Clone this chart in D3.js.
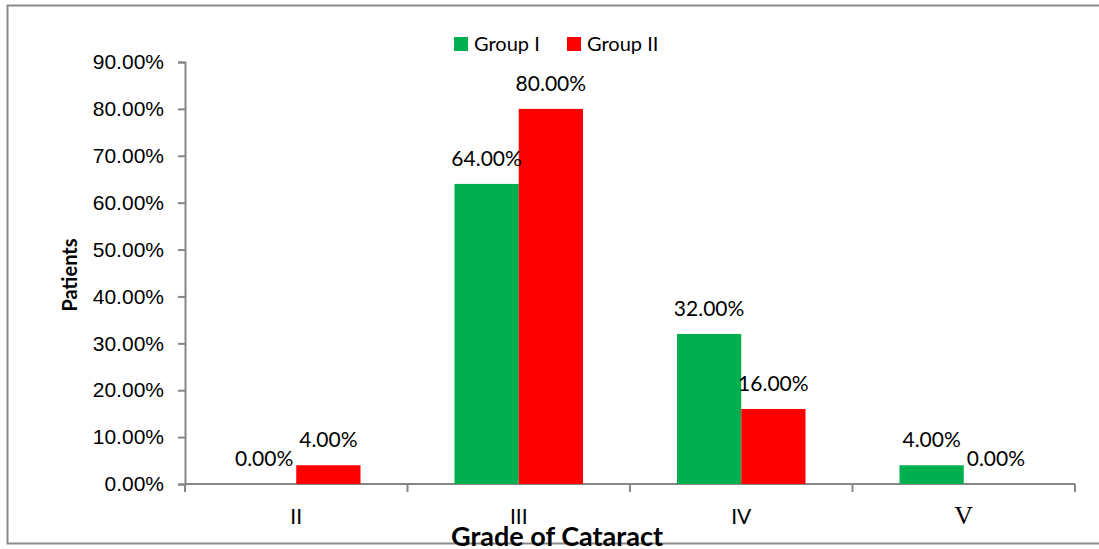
<!DOCTYPE html>
<html>
<head>
<meta charset="utf-8">
<script src="https://cdn.jsdelivr.net/npm/d3@7"></script>
<style>
  body { margin: 0; background: #fff; }
  svg { display: block; font-family: Lato, "Open Sans", sans-serif; }
</style>
</head>
<body>
<div id="chart"></div>
<script>
// data
const grades = ["II", "III", "IV", "V"];
const seriesNames = ["Group I", "Group II"];
const groupI = [0, 64, 32, 4];
const groupII = [4, 80, 16, 0];
const yTicks = [0, 10, 20, 30, 40, 50, 60, 70, 80, 90];
const colors = ["#00b050", "#ff0000"];

const W = 1099, H = 549;
const margin = { top: 62, right: 24, bottom: 65, left: 185 };
const width = W - margin.left - margin.right,
  height = H - margin.top - margin.bottom;

const svg = d3.select("#chart").append("svg")
  .attr("width", W)
  .attr("height", H);

// chart border
svg.append("rect")
  .attr("x", 7.5).attr("y", 5.5)
  .attr("width", W + 10).attr("height", 538)
  .attr("fill", "none")
  .attr("stroke", "#898989")
  .attr("stroke-width", 2);

const g = svg.append("g")
  .attr("transform", "translate(" + margin.left + "," + margin.top + ")");

const x0 = d3.scaleBand().domain(grades).range([0, width]).paddingInner(0).paddingOuter(0);
const x1 = d3.scaleBand().domain(seriesNames).range([47, x0.bandwidth() - 47]);
const y = d3.scaleLinear().domain([0, 90]).range([height, 0]);

// y axis
const yAxis = g.append("g")
  .call(d3.axisLeft(y).tickValues(yTicks).tickSize(7).tickPadding(14)
    .tickFormat(d => d.toFixed(2) + "%"));
yAxis.selectAll("text").style("font-size", "21px").attr("fill", "#000");
yAxis.select(".domain").attr("stroke", "#868686").attr("stroke-width", 2);
yAxis.selectAll(".tick line").attr("stroke", "#868686").attr("stroke-width", 2);

// x axis with ticks at band edges
const xAxis = g.append("g").attr("transform", "translate(0," + height + ")");
xAxis.append("line").attr("x1", 0).attr("x2", width).attr("stroke", "#868686").attr("stroke-width", 2);
xAxis.selectAll("line.tk")
  .data(grades.concat(["end"]))
  .enter().append("line")
  .attr("class", "tk")
  .attr("x1", (d, i) => i * x0.bandwidth())
  .attr("x2", (d, i) => i * x0.bandwidth())
  .attr("y1", 0).attr("y2", 8)
  .attr("stroke", "#868686").attr("stroke-width", 2);
xAxis.selectAll("text")
  .data(grades)
  .enter().append("text")
  .attr("x", d => x0(d) + x0.bandwidth() / 2)
  .attr("y", 40)
  .attr("text-anchor", "middle")
  .style("font-size", d => d === "V" ? "26px" : "21px")
  .style("font-family", d => d === "V" ? "'Liberation Serif', serif" : null)
  .text(d => d);

// bars
const rows = grades.map((k, i) => ({ grade: k, vals: [groupI[i], groupII[i]] }));
const grp = g.selectAll("g.grade")
  .data(rows)
  .enter().append("g")
  .attr("class", "grade")
  .attr("transform", d => "translate(" + x0(d.grade) + ",0)");

grp.selectAll("rect")
  .data(d => d.vals.map((v, j) => ({ key: seriesNames[j], v: v, j: j })))
  .enter().append("rect")
  .attr("x", d => x1(d.key))
  .attr("y", d => y(d.v))
  .attr("width", x1.bandwidth())
  .attr("height", d => height - y(d.v))
  .attr("fill", d => colors[d.j]);

grp.selectAll("text")
  .data(d => d.vals.map((v, j) => ({ key: seriesNames[j], v: v, j: j })))
  .enter().append("text")
  .attr("x", d => x1(d.key) + x1.bandwidth() / 2)
  .attr("y", d => y(d.v) - 18)
  .attr("text-anchor", "middle")
  .style("font-size", "21px")
  .text(d => d.v.toFixed(2) + "%");

// axis titles
svg.append("text")
  .attr("transform", "translate(77,275) rotate(-90)")
  .attr("text-anchor", "middle")
  .style("font-size", "20px")
  .style("font-weight", "bold")
  .text("Patients");

svg.append("text")
  .attr("x", 557).attr("y", 546)
  .attr("text-anchor", "middle")
  .style("font-size", "27px")
  .style("font-weight", "bold")
  .text("Grade of Cataract");

// legend
const legend = svg.append("g").attr("transform", "translate(454,37)");
const lx = [0, 113];
seriesNames.forEach((s, i) => {
  legend.append("rect")
    .attr("x", lx[i]).attr("y", 0)
    .attr("width", 14).attr("height", 14)
    .attr("fill", colors[i]);
  legend.append("text")
    .attr("x", lx[i] + 20).attr("y", 14)
    .style("font-size", "20px")
    .text(s);
});
</script>
</body>
</html>
